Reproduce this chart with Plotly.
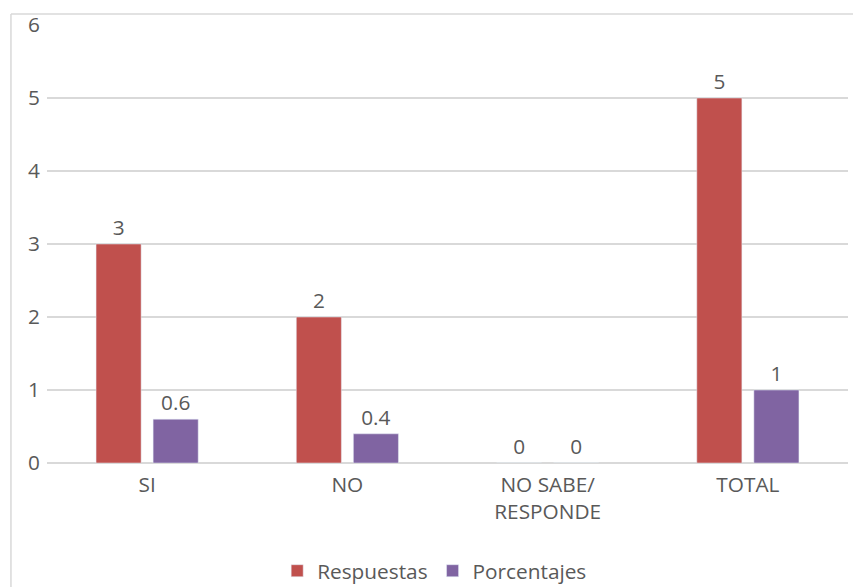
import plotly.graph_objects as go

categories = ["SI", "NO", "NO SABE/<br>RESPONDE", "TOTAL"]
respuestas = [3, 2, 0, 5]
porcentajes = [0.6, 0.4, 0, 1]
resp_labels = ["3", "2", "0", "5"]
porc_labels = ["0.6", "0.4", "0", "1"]

font = dict(family="Open Sans, sans-serif", size=20.8, color="#595959")

fig = go.Figure()
fig.add_trace(go.Bar(name="Respuestas", x=categories, y=respuestas, text=resp_labels,
                     textposition="outside", marker_color="#C0504D", cliponaxis=False,
                     textfont=font))
fig.add_trace(go.Bar(name="Porcentajes", x=categories, y=porcentajes, text=porc_labels,
                     textposition="outside", marker_color="#8064A2", cliponaxis=False,
                     textfont=font))

fig.update_layout(
    width=853, height=587,
    margin=dict(l=47, r=5, t=25, b=124, autoexpand=False),
    paper_bgcolor="white", plot_bgcolor="white",
    font=font,
    barmode="group", bargap=0.43, bargroupgap=0.21,
    showlegend=True,
    legend=dict(orientation="h", x=0.484, xanchor="center", xref="paper",
                y=-0.247, yanchor="middle", yref="paper",
                font=font, itemwidth=30, tracegroupgap=0),
    xaxis=dict(showgrid=False, showline=False, ticks="", tickfont=font, automargin=False,
               ticklabelstandoff=7),
    yaxis=dict(range=[0, 6], dtick=1, showgrid=True, gridcolor="#D9D9D9", gridwidth=1.5,
               zeroline=True, zerolinecolor="#D9D9D9", zerolinewidth=1.5,
               ticks="", tickfont=font, ticklabelstandoff=6, automargin=False),
    shapes=[
        dict(type="line", xref="paper", yref="paper", x0=-0.045, x1=-0.045, y0=1.025, y1=-0.3,
             line=dict(color="#D9D9D9", width=1.5)),
        dict(type="line", xref="paper", yref="paper", x0=-0.045, x1=1.01, y0=1.025, y1=1.025,
             line=dict(color="#D9D9D9", width=1.5)),
    ],
)

fig.write_html("out.html")
